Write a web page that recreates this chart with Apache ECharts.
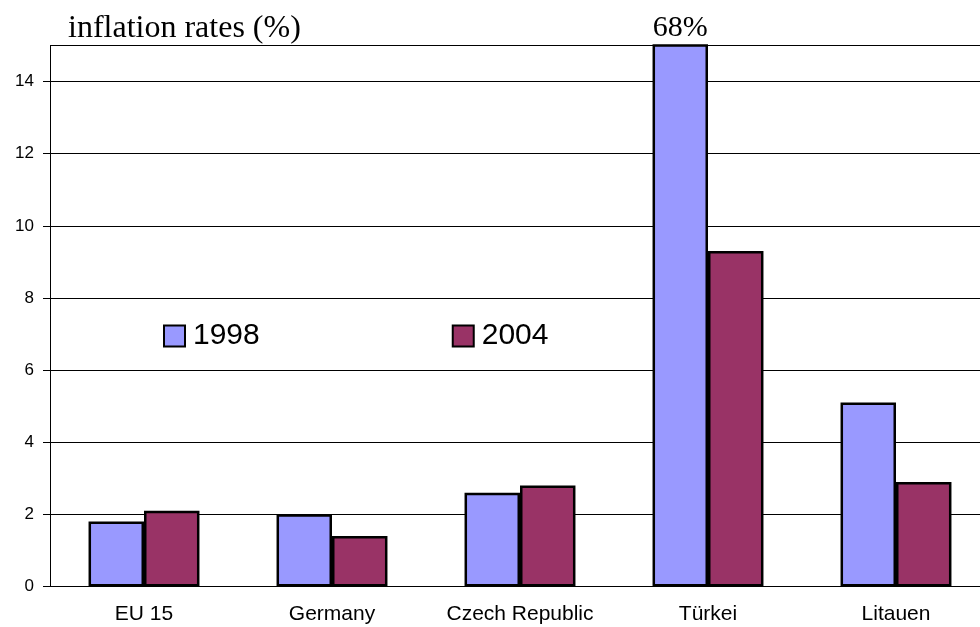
<!DOCTYPE html>
<html>
<head>
<meta charset="utf-8">
<script src="https://cdn.jsdelivr.net/npm/echarts@6/dist/echarts.min.js"></script>
<style>
  html, body { margin: 0; padding: 0; background: #fff; overflow: hidden; }
  /* the plot runs a little past the right edge of the window */
  #chart { width: 990px; height: 627px; }
</style>
</head>
<body>
<div id="chart"></div>
<script>
// Inflation rates by country, 1998 vs 2004 (%)
const countries = ['EU 15', 'Germany', 'Czech Republic', 'Türkei', 'Litauen'];
const years = ['1998', '2004'];
const rates1998 = [1.8, 2.0, 2.6, 68, 5.1];
const rates2004 = [2.1, 1.4, 2.8, 9.3, 2.9];
const yTicks = { min: 0, max: 15, step: 2 };

const sansFont = "'Liberation Sans', Arial, Helvetica, sans-serif";
const serifFont = "'Liberation Serif', 'Times New Roman', Times, serif";

// Values above the axis maximum are clipped and get their value printed above the bar
const withOverflowLabel = (vals) => vals.map(v => v > yTicks.max ? {
  value: v,
  label: {
    show: true, position: 'top', distance: 1,
    formatter: '{c}%', color: '#000',
    fontFamily: serifFont, fontSize: 30
  }
} : v);

const chart = echarts.init(document.getElementById('chart'));
chart.setOption({
  animation: false,
  backgroundColor: '#fff',
  title: {
    text: 'inflation rates (%)',
    left: 68, top: 13,
    padding: 0,
    textStyle: { fontFamily: serifFont, fontSize: 32, fontWeight: 'normal', color: '#000' }
  },
  legend: {
    data: years,
    left: 163, top: 321,
    padding: 0,
    itemWidth: 21, itemHeight: 21, itemGap: 192,
    icon: 'rect',
    textStyle: { fontFamily: sansFont, fontSize: 30, color: '#000', padding: [0, 0, 0, 3] }
  },
  grid: { left: 50, top: 45.5, right: 0, bottom: 40.5, containLabel: false },
  xAxis: {
    type: 'category',
    data: countries,
    axisLine: { lineStyle: { color: '#000', width: 1 } },
    axisTick: { length: 7, lineStyle: { color: '#000' } },
    axisLabel: { interval: 0, color: '#000', fontFamily: sansFont, fontSize: 21, margin: 17 },
    splitLine: { show: false }
  },
  yAxis: {
    type: 'value',
    min: yTicks.min, max: yTicks.max, interval: yTicks.step,
    axisLine: { show: true, lineStyle: { color: '#000', width: 1 } },
    axisTick: { show: true, length: 7, lineStyle: { color: '#000' } },
    axisLabel: { color: '#000', fontFamily: sansFont, fontSize: 17, margin: 16, showMaxLabel: false },
    splitLine: { show: true, lineStyle: { color: '#000', width: 1 } }
  },
  series: [
    {
      name: years[0], type: 'bar', clip: true,
      data: withOverflowLabel(rates1998),
      barGap: 0, barCategoryGap: '41%',
      itemStyle: { color: '#9999FF', borderColor: '#000', borderWidth: 2.5 }
    },
    {
      name: years[1], type: 'bar', clip: true,
      data: withOverflowLabel(rates2004),
      barGap: 0, barCategoryGap: '41%',
      itemStyle: { color: '#993366', borderColor: '#000', borderWidth: 2.5 }
    }
  ]
});
</script>
</body>
</html>
